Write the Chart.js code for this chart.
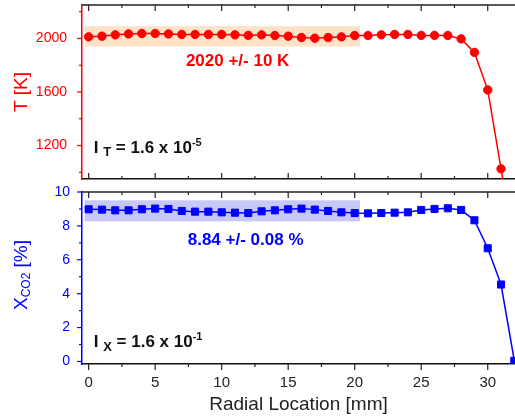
<!DOCTYPE html>
<html>
<head>
<meta charset="utf-8">
<script src="https://cdn.jsdelivr.net/npm/chart.js@4.4.1/dist/chart.umd.min.js"></script>
<style>
html, body { margin: 0; padding: 0; background: #fff; overflow: hidden; }
#topBox { position: absolute; left: 0; top: 0; width: 515px; height: 185px; }
#botBox { position: absolute; left: 0; top: 182px; width: 515px; height: 236px; }
</style>
</head>
<body>
<div id="topBox"><canvas id="tChart"></canvas></div>
<div id="botBox"><canvas id="xChart"></canvas></div>
<script>
// radial positions (mm)
const xMm = [0, 1, 2, 3, 4, 5, 6, 7, 8, 9, 10, 11, 12, 13, 14, 15, 16,
    17, 18, 19, 20, 21, 22, 23, 24, 25, 26, 27, 28, 29, 30, 31, 32];
// temperature (K)
const tempK = [2012, 2017, 2027, 2034, 2037, 2037, 2034, 2030, 2030, 2030, 2030,
    2027, 2023, 2027, 2022, 2017, 2007, 2002, 2007, 2012, 2022, 2022, 2027,
    2030, 2030, 2023, 2023, 2022, 1997, 1896, 1615, 1026, 450];
// CO2 mole fraction (%)
const co2Pct = [8.98, 8.96, 8.92, 8.92, 8.98, 9.02, 9.00, 8.88, 8.84, 8.84, 8.80,
    8.78, 8.76, 8.86, 8.92, 8.98, 9.02, 8.96, 8.88, 8.80, 8.76, 8.74, 8.76,
    8.78, 8.80, 8.94, 9.00, 9.04, 8.94, 8.33, 6.68, 4.54, 0.04];
// shaded averaging bands [xFrom, xTo, low, high]
const tBand = [-0.3, 20.4, 1940, 2092];
const xBand = [-0.3, 20.4, 8.27, 9.51];
// tick values
const xMajor = [0, 5, 10, 15, 20, 25, 30];
const xMinor = [2.5, 7.5, 12.5, 17.5, 22.5, 27.5];
const tMajor = [1200, 1600, 2000];
const tMinor = [1000, 1400, 1800, 2200];
const cMajor = [0, 2, 4, 6, 8, 10];
const cMinor = [1, 3, 5, 7, 9];

const RED = '#ff0000';
const BLUE = '#0000ff';
const FONT = '"Liberation Sans", Arial, sans-serif';

function drawRich(ctx, x, y, parts, align) {
    let w = 0;
    parts.forEach((p) => {
        ctx.font = (p.bold ? 'bold ' : '') + p.size + 'px ' + FONT;
        p.w = ctx.measureText(p.t).width;
        w += p.w;
    });
    let cx = align === 'center' ? x - w / 2 : x;
    ctx.textBaseline = 'middle';
    ctx.textAlign = 'left';
    parts.forEach((p) => {
        ctx.font = (p.bold ? 'bold ' : '') + p.size + 'px ' + FONT;
        ctx.fillText(p.t, cx, y + (p.dy || 0));
        cx += p.w;
    });
}

function ticksX(ctx, scale, vals, yBase, dir, len) {
    vals.forEach((v) => {
        const px = scale.getPixelForValue(v);
        ctx.beginPath();
        ctx.moveTo(px, yBase);
        ctx.lineTo(px, yBase + dir * len);
        ctx.stroke();
    });
}

function ticksY(ctx, scale, vals, xBase, len) {
    vals.forEach((v) => {
        const py = scale.getPixelForValue(v);
        ctx.beginPath();
        ctx.moveTo(xBase, py);
        ctx.lineTo(xBase - len, py);
        ctx.stroke();
    });
}

// fixed axis sizes, no extra label padding
function fitY(s) { s.width = 82; s.paddingTop = 0; s.paddingBottom = 0; }
function setTicks(vals) {
    return (s) => { s.ticks = vals.map((v) => ({ value: v })); };
}

const framePlugin = {
    id: 'frame',
    beforeDatasetsDraw(chart, args, opts) {
        const { ctx, scales: { x, y } } = chart;
        const b = opts.band;
        const l = x.getPixelForValue(b[0]), r = x.getPixelForValue(b[1]);
        const t = y.getPixelForValue(b[3]), bt = y.getPixelForValue(b[2]);
        ctx.save();
        ctx.fillStyle = opts.bandColor;
        ctx.fillRect(l, t, r - l, bt - t);
        ctx.restore();
    },
    afterDraw(chart, args, opts) {
        const { ctx, chartArea: a, scales: { x, y } } = chart;
        ctx.save();
        // top frame line
        ctx.strokeStyle = '#222';
        ctx.lineWidth = 1.5;
        ctx.beginPath();
        ctx.moveTo(a.left, a.top);
        ctx.lineTo(a.right, a.top);
        ctx.stroke();
        ctx.lineWidth = 1.2;
        ticksX(ctx, x, xMajor, a.top, 1, 6);
        ticksX(ctx, x, xMinor, a.top, 1, 3);
        ticksX(ctx, x, xMajor, a.bottom, opts.bottomDir, 6);
        ticksX(ctx, x, xMinor, a.bottom, opts.bottomDir, 3);
        ctx.strokeStyle = opts.yColor;
        ticksY(ctx, y, opts.yMajor, a.left, 5);
        ticksY(ctx, y, opts.yMinor, a.left, 3);
        // annotations
        opts.notes.forEach((n) => {
            ctx.fillStyle = n.color;
            drawRich(ctx, x.getPixelForValue(n.x), y.getPixelForValue(n.y), n.parts, n.align);
        });
        // rich y title
        if (opts.yTitle) {
            ctx.save();
            ctx.translate(opts.yTitle.cx, (a.top + a.bottom) / 2 - 3);
            ctx.rotate(-Math.PI / 2);
            ctx.fillStyle = opts.yColor;
            drawRich(ctx, 0, 0, opts.yTitle.parts, 'center');
            ctx.restore();
        }
        ctx.restore();
    }
};

new Chart(document.getElementById('tChart'), {
    type: 'line',
    data: {
        datasets: [{
            data: xMm.map((v, i) => ({ x: v, y: tempK[i] })),
            borderColor: RED,
            backgroundColor: RED,
            borderWidth: 1.5,
            pointStyle: 'circle',
            pointRadius: 4.2,
            pointBorderWidth: 1
        }]
    },
    options: {
        responsive: true,
        maintainAspectRatio: false,
        animation: false,
        layout: { autoPadding: false, padding: { top: 5, left: 0, right: 0, bottom: 0 } },
        plugins: {
            legend: { display: false },
            tooltip: { enabled: false },
            frame: {
                band: tBand,
                bandColor: '#fde2c8',
                bottomDir: -1,
                yColor: RED,
                yMajor: tMajor,
                yMinor: tMinor,
                notes: [
                    { x: 11.2, y: 1831, align: 'center', color: RED,
                      parts: [{ t: '2020 +/- 10 K', size: 17, bold: true }] },
                    { x: 0.38, y: 1183, align: 'left', color: '#111',
                      parts: [
                          { t: 'I ', size: 17, bold: true },
                          { t: 'T', size: 13, bold: true, dy: 5 },
                          { t: ' = 1.6 x 10', size: 17, bold: true },
                          { t: '-5', size: 11, bold: true, dy: -5 }
                      ] }
                ]
            }
        },
        scales: {
            x: {
                type: 'linear',
                min: -0.5,
                max: 32.05,
                ticks: { display: false },
                grid: { display: false, drawTicks: false },
                border: { color: '#111', width: 1.5 },
                afterBuildTicks: setTicks(xMajor),
                afterFit: (s) => { s.height = 6; s.paddingLeft = 0; s.paddingRight = 0; }
            },
            y: {
                min: 950,
                max: 2250,
                ticks: { color: RED, padding: 15, font: { size: 14, family: FONT },
                    callback: (v) => String(v) },
                grid: { display: false, drawTicks: false },
                border: { color: RED, width: 1.5 },
                title: { display: true, text: 'T [K]', color: RED,
                    font: { size: 19, family: FONT }, padding: { top: 10.6, bottom: 0 } },
                afterBuildTicks: setTicks(tMajor),
                afterFit: fitY
            }
        }
    },
    plugins: [framePlugin]
});

new Chart(document.getElementById('xChart'), {
    type: 'line',
    data: {
        datasets: [{
            data: xMm.map((v, i) => ({ x: v, y: co2Pct[i] })),
            borderColor: BLUE,
            backgroundColor: BLUE,
            borderWidth: 1.5,
            pointStyle: 'rect',
            pointRadius: 5,
            pointBorderWidth: 1
        }]
    },
    options: {
        responsive: true,
        maintainAspectRatio: false,
        animation: false,
        layout: { autoPadding: false, padding: { top: 10, left: 0, right: 0, bottom: 0 } },
        plugins: {
            legend: { display: false },
            tooltip: { enabled: false },
            frame: {
                band: xBand,
                bandColor: '#c8c8f6',
                bottomDir: 1,
                yColor: BLUE,
                yMajor: cMajor,
                yMinor: cMinor,
                yTitle: {
                    cx: 22,
                    parts: [
                        { t: 'X', size: 19 },
                        { t: 'CO2', size: 12, dy: 5 },
                        { t: ' [%]', size: 19 }
                    ]
                },
                notes: [
                    { x: 11.8, y: 7.15, align: 'center', color: BLUE,
                      parts: [{ t: '8.84 +/- 0.08 %', size: 17, bold: true }] },
                    { x: 0.38, y: 1.14, align: 'left', color: '#111',
                      parts: [
                          { t: 'I ', size: 17, bold: true },
                          { t: 'X', size: 13, bold: true, dy: 5 },
                          { t: ' = 1.6 x 10', size: 17, bold: true },
                          { t: '-1', size: 11, bold: true, dy: -5 }
                      ] }
                ]
            }
        },
        scales: {
            x: {
                type: 'linear',
                min: -0.5,
                max: 32.05,
                ticks: { color: '#222', padding: 10, font: { size: 15, family: FONT } },
                grid: { display: false, drawTicks: false },
                border: { color: '#111', width: 1.5 },
                title: { display: true, text: 'Radial Location [mm]', color: '#222',
                    font: { size: 19, family: FONT }, padding: { top: 0, bottom: 1.6 } },
                afterBuildTicks: setTicks(xMajor),
                afterFit: (s) => { s.height = 54; s.paddingLeft = 0; s.paddingRight = 0; }
            },
            y: {
                min: -0.15,
                max: 10,
                ticks: { color: BLUE, padding: 12, font: { size: 14, family: FONT } },
                grid: { display: false, drawTicks: false },
                border: { color: BLUE, width: 1.5 },
                afterBuildTicks: setTicks(cMajor),
                afterFit: fitY
            }
        }
    },
    plugins: [framePlugin]
});
</script>
</body>
</html>
